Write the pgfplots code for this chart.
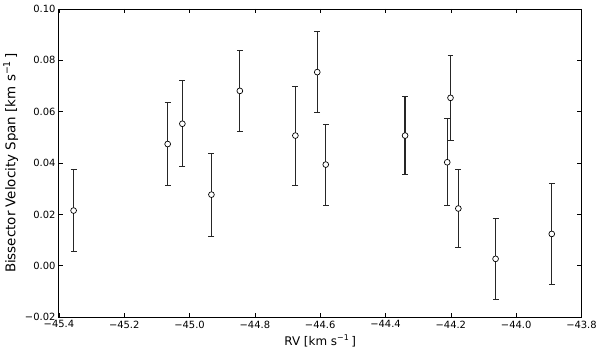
\documentclass[border=0pt]{standalone}
\usepackage{fontspec}
\setmainfont{DejaVu Sans}
\usepackage{pgfplots}
\usepackage{pgfplotstable}
\pgfplotsset{compat=1.18}

% RV, bisector span, 1-sigma error (km/s)
\pgfplotstableread{
rv       bis     err
-45.355  0.0215  0.0160
-45.067  0.0474  0.0163
-45.022  0.0553  0.0167
-44.933  0.0277  0.0161
-44.846  0.0681  0.0159
-44.676  0.0507  0.0193
-44.609  0.0754  0.0158
-44.583  0.0394  0.0158
-44.340  0.0507  0.0151
-44.211  0.0403  0.0169
-44.201  0.0654  0.0165
-44.177  0.0223  0.0152
-44.063  0.0027  0.0158
-43.891  0.0124  0.0198
}\bisdata

\begin{document}
\begin{tikzpicture}
\begin{axis}[
  at={(0,0)}, anchor=south west,
  scale only axis, width=524bp, height=309bp,
  xmin=-45.4, xmax=-43.8, ymin=-0.02, ymax=0.10,
  xtick={-45.4,-45.2,-45.0,-44.8,-44.6,-44.4,-44.2,-44.0,-43.8},
  xticklabels={−45.4,−45.2,−45.0,−44.8,−44.6,−44.4,−44.2,−44.0,−43.8},
  ytick={-0.02,0,0.02,0.04,0.06,0.08,0.10},
  yticklabels={−0.02,0.00,0.02,0.04,0.06,0.08,0.10},
  tick align=inside, major tick length=4bp,
  tick style={black, line width=0.6pt},
  axis line style={line width=0.9pt},
  tick label style={font=\fontsize{10}{12}\selectfont},
  xlabel style={font=\fontsize{12}{14}\selectfont},
  ylabel style={font=\fontsize{13.5}{16}\selectfont},
  xlabel={RV [km s\textsuperscript{−1}\,]},
  ylabel={Bissector Velocity Span [km s\textsuperscript{−1}\,]},
]
\addplot[black!85, line width=1.3pt, only marks, mark=*, mark size=2.9bp,
  mark options={fill=white, draw=black, line width=0.7pt},
  error bars/.cd, y dir=both, y explicit,
  error bar style={line width=1.3pt, black!85},
  error mark options={rotate=90, mark size=3bp, line width=0.9pt, black!85}]
  table[x=rv, y=bis, y error=err] {\bisdata};
\end{axis}
\path[use as bounding box] (-59bp,-31bp) rectangle (541bp,318bp);
\end{tikzpicture}
\end{document}
